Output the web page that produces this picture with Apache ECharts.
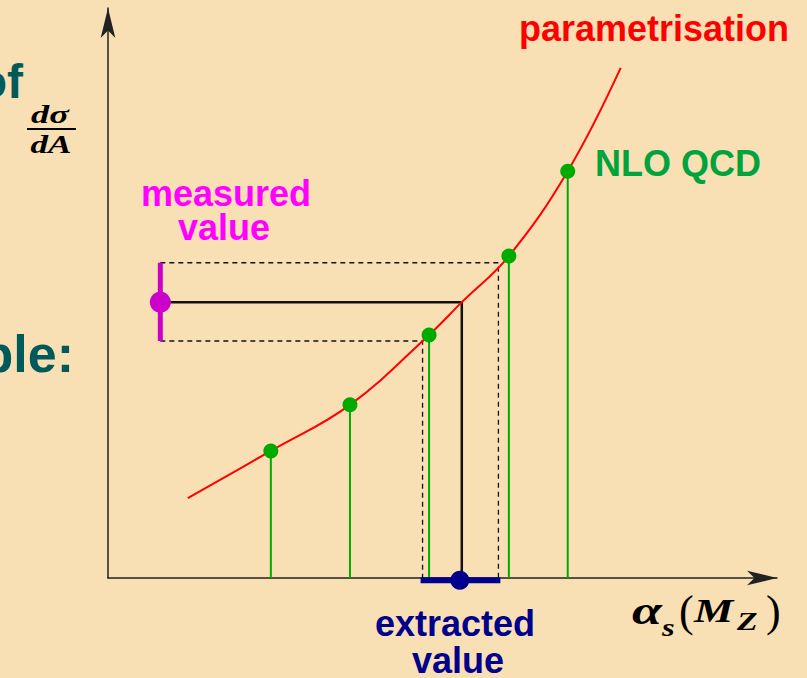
<!DOCTYPE html>
<html>
<head>
<meta charset="utf-8">
<script src="https://cdn.jsdelivr.net/npm/echarts@6/dist/echarts.min.js"></script>
<style>
html,body{margin:0;padding:0;background:#f9e0b4;}
#c{width:807px;height:678px;}
</style>
</head>
<body>
<div id="c"></div>
<script>
// ---- data (arbitrary units) ----
const curveX = [1.22, 2.49, 3.70, 4.91, 5.41, 6.13, 7.03, 7.84];
const curveY = [1.44, 2.29, 3.12, 4.38, 4.97, 5.80, 7.33, 9.19];
const nloX = [2.49, 3.70, 4.91, 6.13, 7.03];
const nloY = [2.29, 3.12, 4.38, 5.80, 7.33];
const measuredX = [0.80];
const measuredY = [4.97];
const measuredErr = [4.27, 5.68];
const extractedX = [5.41];
const extractedErr = [4.81, 5.97];
const axisMaxX = 10.23;
const axisMaxY = 10.27;

const zip = (a, b) => a.map((v, i) => [v, b[i]]);

const chart = echarts.init(document.getElementById('c'), null, {renderer: 'svg'});
const BLACK = '#111';
const GREEN = '#00aa00';
const MAG = '#cc00cc';
const NAVY = '#00008c';
const SANS = '"Liberation Sans", Arial, sans-serif';
const SERIF = '"Liberation Serif", "Times New Roman", serif';

function mathText(txt, x, y, size, italic, align, sx, weight) {
  return {type: 'text', x: x, y: y, scaleX: sx, style: {text: txt, fill: '#000',
    font: (italic ? 'italic ' : '') + (weight || 'bold') + ' ' + size + 'px ' + SERIF,
    textAlign: align, textVerticalAlign: 'middle'}};
}

const option = {
  backgroundColor: '#f9e0b4',
  animation: false,
  grid: {left: 108, right: 30, top: 8, bottom: 100},
  xAxis: {
    type: 'value', min: 0, max: axisMaxX,
    axisLine: {show: true, onZero: false, symbol: ['none', 'arrow'], symbolSize: [11, 30],
      lineStyle: {color: '#222', width: 1.5}},
    axisTick: {show: false}, axisLabel: {show: false}, splitLine: {show: false}
  },
  yAxis: {
    type: 'value', min: 0, max: axisMaxY,
    axisLine: {show: true, onZero: false, symbol: ['none', 'arrow'], symbolSize: [11, 30],
      lineStyle: {color: '#222', width: 1.5}},
    axisTick: {show: false}, axisLabel: {show: false}, splitLine: {show: false}
  },
  series: [
    { // dashed band (upper)
      type: 'line', symbol: 'none', z: 3, clip: false,
      data: [[measuredX[0], measuredErr[1]], [extractedErr[1], measuredErr[1]], [extractedErr[1], 0]],
      lineStyle: {color: BLACK, width: 1.3, type: [5, 4]}
    },
    { // dashed band (lower)
      type: 'line', symbol: 'none', z: 3, clip: false,
      data: [[measuredX[0], measuredErr[0]], [extractedErr[0], measuredErr[0]], [extractedErr[0], 0]],
      lineStyle: {color: BLACK, width: 1.3, type: [5, 4]}
    },
    { // solid projection
      type: 'line', symbol: 'none', z: 3, clip: false,
      data: [[measuredX[0], measuredY[0]], [extractedX[0], measuredY[0]], [extractedX[0], 0]],
      lineStyle: {color: BLACK, width: 2.5}
    },
    { // NLO stems
      type: 'custom', z: 4, clip: false,
      data: zip(nloX, nloY),
      renderItem: function (params, api) {
        const top = api.coord([api.value(0), api.value(1)]);
        const base = api.coord([api.value(0), 0]);
        return {type: 'line', shape: {x1: top[0], y1: top[1], x2: base[0], y2: base[1]},
          style: {stroke: GREEN, lineWidth: 2}};
      }
    },
    { // parametrisation curve
      type: 'line', symbol: 'none', smooth: 0.4, z: 5, clip: false,
      data: zip(curveX, curveY),
      lineStyle: {color: '#ff0000', width: 2}
    },
    { // NLO points
      type: 'scatter', symbol: 'circle', symbolSize: 15, z: 6,
      itemStyle: {color: GREEN, opacity: 1},
      data: zip(nloX, nloY)
    },
    { // measured error bar
      type: 'line', symbol: 'none', z: 6, clip: false,
      data: [[measuredX[0], measuredErr[0]], [measuredX[0], measuredErr[1]]],
      lineStyle: {color: MAG, width: 5}
    },
    { // measured point
      type: 'scatter', symbol: 'circle', symbolSize: 21, z: 7,
      itemStyle: {color: MAG, opacity: 1},
      data: zip(measuredX, measuredY)
    },
    { // extracted error bar
      type: 'line', symbol: 'none', z: 8, clip: false,
      data: [[extractedErr[0] - 0.03, -0.04], [extractedErr[1] + 0.03, -0.04]],
      lineStyle: {color: NAVY, width: 6}
    },
    { // extracted point
      type: 'scatter', symbol: 'circle', symbolSize: 19, z: 9, clip: false,
      itemStyle: {color: NAVY, opacity: 1},
      data: [[extractedX[0] - 0.03, -0.04]]
    }
  ],
  graphic: [
    {type: 'text', x: 654, y: 28, style: {text: 'parametrisation', fill: '#ff0000',
      font: 'bold 36px ' + SANS, textAlign: 'center', textVerticalAlign: 'middle'}},
    {type: 'text', x: 678, y: 163, style: {text: 'NLO QCD', fill: '#00a33c',
      font: 'bold 36px ' + SANS, textAlign: 'center', textVerticalAlign: 'middle'}},
    {type: 'text', x: 226, y: 193, style: {text: 'measured', fill: '#ff00ff',
      font: 'bold 36px ' + SANS, textAlign: 'center', textVerticalAlign: 'middle'}},
    {type: 'text', x: 224, y: 227, style: {text: 'value', fill: '#ff00ff',
      font: 'bold 36px ' + SANS, textAlign: 'center', textVerticalAlign: 'middle'}},
    {type: 'text', x: 455, y: 623, style: {text: 'extracted', fill: NAVY,
      font: 'bold 36px ' + SANS, textAlign: 'center', textVerticalAlign: 'middle'}},
    {type: 'text', x: 458, y: 660, style: {text: 'value', fill: NAVY,
      font: 'bold 36px ' + SANS, textAlign: 'center', textVerticalAlign: 'middle'}},
    {type: 'text', x: 23, y: 81, style: {text: 'of', fill: '#005a5a',
      font: 'bold 48px ' + SANS, textAlign: 'right', textVerticalAlign: 'middle'}},
    {type: 'text', x: 74, y: 354, style: {text: 'ble:', fill: '#005a5a',
      font: 'bold 52px ' + SANS, textAlign: 'right', textVerticalAlign: 'middle'}},
    // d sigma / d A
    mathText('dσ', 50, 114, 26, true, 'center', 1.4),
    {type: 'line', shape: {x1: 27, y1: 129, x2: 76, y2: 129}, style: {stroke: '#000', lineWidth: 2}},
    mathText('dA', 51, 144, 26, true, 'center', 1.35),
    // alpha_s(M_Z)
    mathText('α', 632, 611, 40, true, 'left', 1.35),
    mathText('s', 662, 627, 25, true, 'left', 1.3),
    mathText('(', 679, 611, 44, false, 'left', 1, 'normal'),
    mathText('M', 694, 611, 34, true, 'left', 1.3),
    mathText('Z', 737, 621, 26, true, 'left', 1.3),
    mathText(')', 766, 611, 44, false, 'left', 1, 'normal')
  ]
};
chart.setOption(option);
</script>
</body>
</html>
